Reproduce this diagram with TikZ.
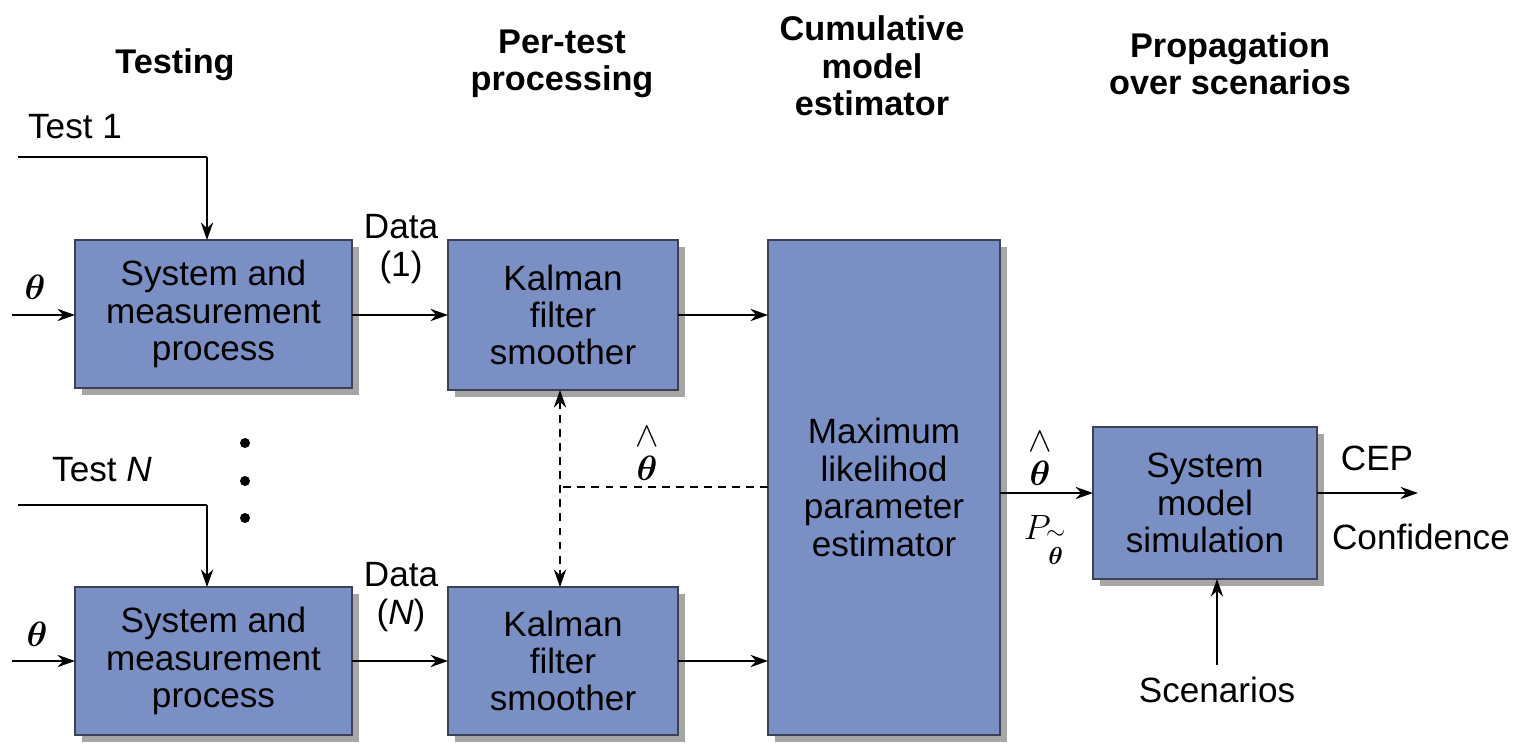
\RequirePackage{fix-cm}
\documentclass[tikz,border=0pt]{standalone}
\usepackage{amsmath,amssymb,bm}
\usepackage{fontspec}
\setmainfont{Liberation Sans}
\usetikzlibrary{arrows.meta,shadows}
\definecolor{boxfill}{RGB}{122,143,196}
\definecolor{boxedge}{RGB}{60,66,84}
\newcommand{\thhat}{\overset{\raisebox{1pt}{$\textstyle\wedge$}}{\bm{\theta}}}
\newcommand{\thtil}{\overset{\raisebox{1.5pt}{$\scriptstyle\sim$}}{\bm{\theta}}}
\begin{document}
\begin{tikzpicture}[x=0.02cm,y=-0.02cm,
  every node/.style={inner sep=0pt, outer sep=0pt},
  blk/.style={draw=boxedge, line width=0.8pt, fill=boxfill, align=center,
    font=\fontsize{20}{21.3}\selectfont,
    drop shadow={shadow xshift=4pt, shadow yshift=-4pt, opacity=0.35, fill=black}},
  ttl/.style={align=center, font=\fontsize{19.5}{21.3}\selectfont\bfseries},
  lbl/.style={align=center, font=\fontsize{20}{21.3}\selectfont},
  arr/.style={line width=1.1pt, -{Stealth[length=10pt,width=7pt]}},
  dsh/.style={line width=1.1pt, dash pattern=on 4.5pt off 3.5pt}
]
\useasboundingbox (0,0) rectangle (1516,743);
% titles
\node[ttl] (t1) at (175,65) {Testing};
\node[ttl] (t2) at (562,64) {Per-test\\processing};
\node[ttl] (t3) at (872,66) {Cumulative\\model\\estimator};
\node[ttl] (t4) at (1230,64) {Propagation\\over scenarios};
% blocks
\node[blk, minimum width=5.54cm, minimum height=2.96cm] (sm1) at (213.5,314) {System and\\measurement\\process};
\node[blk, minimum width=5.54cm, minimum height=2.96cm] (sm2) at (213.5,661) {System and\\measurement\\process};
\node[blk, minimum width=4.6cm, minimum height=3.0cm] (kf1) at (563,315) {Kalman\\filter\\smoother};
\node[blk, minimum width=4.6cm, minimum height=2.96cm] (kf2) at (563,661) {Kalman\\filter\\smoother};
\node[blk, minimum width=4.64cm, minimum height=9.9cm] (ml) at (884,487.5) {Maximum\\likelihod\\parameter\\estimator};
\node[blk, minimum width=4.48cm, minimum height=3.04cm] (sms) at (1205,503) {System\\model\\simulation};
% test 1 input
\coordinate (tin1) at (18,157);
\coordinate (tc1) at (207,157);
\draw[line width=1.1pt] (tin1) -- (tc1);
\draw[arr] (tc1) -- (tc1 |- sm1.north);
\node[lbl] (test1) at (75,127) {Test 1};
% test N input
\coordinate (tinN) at (18,505);
\coordinate (tcN) at (207,505);
\draw[line width=1.1pt] (tinN) -- (tcN);
\draw[arr] (tcN) -- (tcN |- sm2.north);
\node[lbl] (testN) at (102,470) {Test \textit{N}};
% dots
\fill (245,443) circle (0.1cm);
\fill (245,481) circle (0.1cm);
\fill (245,518) circle (0.1cm);
% theta inputs
\coordinate (th1) at (12,315);
\coordinate (th2) at (12,661);
\draw[arr] (th1) -- (th1 -| sm1.west);
\draw[arr] (th2) -- (th2 -| sm2.west);
\node[lbl] (thl1) at (35,287) {$\bm{\theta}$};
\node[lbl] (thl2) at (37,634) {$\bm{\theta}$};
% data arrows
\draw[arr] (sm1.east |- th1) -- (kf1.west |- th1);
\draw[arr] (sm2.east |- th2) -- (kf2.west |- th2);
\node[lbl] (d1) at (401,249) {Data\\(1)};
\node[lbl] (dN) at (401,597) {Data\\(\textit{N})};
% KF to ML
\draw[arr] (kf1.east |- th1) -- (ml.west |- th1);
\draw[arr] (kf2.east |- th2) -- (ml.west |- th2);
% dashed feedback
\coordinate (dj) at (560,487);
\draw[dsh] (ml.west |- dj) -- (dj);
\draw[dsh, {Stealth[length=10pt,width=7pt]}-{Stealth[length=10pt,width=7pt]}] (dj |- kf1.south) -- (dj |- kf2.north);
\node[lbl] (thh) at (647,452) {$\thhat$};
% ML to SMS
\coordinate (mo) at (1000,493);
\draw[arr] (ml.east |- mo) -- (sms.west |- mo);
\node[lbl] (thh2) at (1040,457) {$\thhat$};
\node[lbl] (pth) at (1045,540) {$P_{\thtil}$};
% outputs
\coordinate (out) at (1418,493);
\draw[arr] (sms.east |- out) -- (out);
\node[lbl] (cep) at (1377,458) {CEP};
\node[lbl] (conf) at (1421,537) {Confidence};
% scenarios
\node[lbl] (scn) at (1217,690) {Scenarios};
\coordinate (sc) at (1217,665);
\draw[arr] (sc) -- (sc |- sms.south);
\end{tikzpicture}
\end{document}
